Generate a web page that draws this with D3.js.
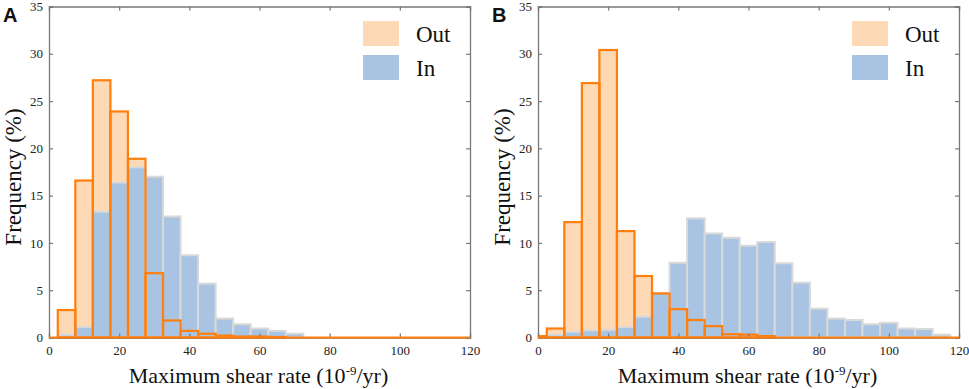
<!DOCTYPE html>
<html>
<head>
<meta charset="utf-8">
<script src="https://cdn.jsdelivr.net/npm/d3@7"></script>
<style>
  body { margin: 0; background: #fff; }
  svg { display: block; }
  .tick text { font-family: "Liberation Serif", "Times New Roman", serif; }
</style>
</head>
<body>
<svg></svg>
<script>
const [width, height] = [969, 389];

// bin centres, 5 units wide
const binCenters = d3.range(0, 125, 5);
const xTicks = [0, 20, 40, 60, 80, 100, 120];
const yTicks = [0, 5, 10, 15, 20, 25, 30, 35];

// panel A
const outA = [0, 2.9, 16.6, 27.2, 23.9, 18.9, 6.8, 1.8, 0.7, 0.4, 0.2, 0.1, 0.1, 0.05, 0, 0, 0, 0, 0, 0, 0, 0, 0, 0, 0];
const inA = [0, 0.3, 1.1, 13.3, 16.4, 18.0, 17.0, 12.8, 8.7, 5.7, 2.0, 1.4, 0.95, 0.7, 0.4, 0, 0, 0, 0, 0, 0, 0, 0, 0, 0];
// panel B
const outB = [0.15, 0.95, 12.2, 26.9, 30.4, 11.25, 6.5, 4.65, 3.0, 1.85, 1.2, 0.35, 0.3, 0.15, 0, 0, 0, 0, 0, 0, 0, 0, 0, 0, 0];
const inB = [0, 0.3, 0.6, 0.75, 0.8, 1.1, 2.2, 4.7, 7.9, 12.6, 11.0, 10.55, 9.7, 10.1, 7.85, 5.8, 3.05, 2.0, 1.85, 1.4, 1.55, 0.95, 0.9, 0.3, 0];

const orange = '#ff7f0e';
const peach = '#fdd9b6';
const blue = '#a8c4e2';
const grey = '#d9d9d9';
const frame = '#777';
const serif = '"Liberation Serif", "Times New Roman", serif';

const svg = d3.select('svg').attr('width', width).attr('height', height);

function drawPanel(left, right, top, bottom, outVals, inVals, letter, id) {
  const x = d3.scaleLinear().domain([0, 120]).range([left, right]);
  const y = d3.scaleLinear().domain([0, 35]).range([bottom, top]);
  const g = svg.append('g');
  const bw = 5;

  const outBins = outVals.map((v, i) => ({ c: binCenters[i], v })).filter(d => d.v > 0);
  const inBins = inVals.map((v, i) => ({ c: binCenters[i], v })).filter(d => d.v > 0);

  g.append('clipPath').attr('id', 'clip' + id)
    .append('rect').attr('x', left).attr('y', top - 5)
    .attr('width', right - left).attr('height', bottom - top + 10);

  const plot = g.append('g').attr('clip-path', `url(#clip${id})`);

  // orange fill
  plot.selectAll('.outFill').data(outBins).join('rect')
    .attr('x', d => x(d.c - bw / 2))
    .attr('width', x(bw) - x(0))
    .attr('y', d => y(d.v))
    .attr('height', d => y(0) - y(d.v))
    .attr('fill', peach);

  // blue bars
  plot.selectAll('.inBar').data(inBins).join('rect')
    .attr('x', d => x(d.c - bw / 2))
    .attr('width', x(bw) - x(0))
    .attr('y', d => y(d.v))
    .attr('height', d => y(0) - y(d.v))
    .attr('fill', blue)
    .attr('stroke', grey)
    .attr('stroke-width', 2);

  // orange outline
  plot.selectAll('.outLine').data(outBins).join('rect')
    .attr('x', d => x(d.c - bw / 2))
    .attr('width', x(bw) - x(0))
    .attr('y', d => y(d.v))
    .attr('height', d => y(0) - y(d.v))
    .attr('fill', 'none')
    .attr('stroke', orange)
    .attr('stroke-width', 2.2);

  // frame + inward ticks
  const axB = d3.axisBottom(x).tickValues(xTicks).tickSize(-4).tickPadding(8).tickFormat(d3.format('d'));
  const axT = d3.axisTop(x).tickValues(xTicks).tickSize(-4).tickFormat('');
  const axL = d3.axisLeft(y).tickValues(yTicks).tickSize(-4).tickPadding(6).tickFormat(d3.format('d'));
  const axR = d3.axisRight(y).tickValues(yTicks).tickSize(-4).tickFormat('');

  const axes = [
    [axB, `translate(0,${bottom})`],
    [axT, `translate(0,${top})`],
    [axL, `translate(${left},0)`],
    [axR, `translate(${right},0)`]
  ];
  axes.forEach(([ax, tr]) => {
    const a = g.append('g').attr('transform', tr).call(ax)
      .attr('font-family', serif).attr('font-size', 13);
    a.select('.domain').attr('stroke', frame).attr('stroke-width', 1.3);
    a.selectAll('.tick line').attr('stroke', frame).attr('stroke-width', 1.2);
    a.selectAll('.tick text').attr('fill', '#222').style('font-size', '13px');
  });
  // orange baseline over the bottom frame
  g.append('line')
    .attr('x1', x(0)).attr('x2', x(120))
    .attr('y1', y(0)).attr('y2', y(0))
    .attr('stroke', orange).attr('stroke-width', 2.2);

  // legend
  const lx = left + 314;
  const legend = [['Out', peach, 21], ['In', blue, 55]];
  legend.forEach(([name, col, ly]) => {
    g.append('rect').attr('x', lx).attr('y', ly).attr('width', 36).attr('height', 25)
      .attr('fill', col);
    g.append('text').attr('x', lx + 53).attr('y', ly + 21)
      .text(name)
      .style('font-family', serif).style('font-size', '23px').attr('fill', '#111');
  });

  // axis titles
  const xt = g.append('text')
    .attr('x', (left + right) / 2 - 1).attr('y', 383)
    .attr('text-anchor', 'middle')
    .style('font-family', serif).style('font-size', '22px').attr('fill', '#111');
  xt.append('tspan').text('Maximum shear rate (10');
  xt.append('tspan').text('-9').attr('dy', -8).style('font-size', '13px');
  xt.append('tspan').text('/yr)').attr('dy', 8);

  g.append('text')
    .attr('transform', `translate(${left - 28},${(top + bottom) / 2 + 5}) rotate(-90)`)
    .attr('text-anchor', 'middle')
    .style('font-family', serif).style('font-size', '23px').attr('fill', '#111')
    .text('Frequency (%)');

  g.append('text')
    .attr('x', left - 46).attr('y', 22)
    .style('font-family', '"Liberation Sans", Arial, sans-serif')
    .style('font-size', '20px').style('font-weight', 'bold').attr('fill', '#111')
    .text(letter);
}

drawPanel(49, 470, 6.5, 337.5, outA, inA, 'A', 'a');
drawPanel(538, 959, 6.5, 337.5, outB, inB, 'B', 'b');
</script>
</body>
</html>
